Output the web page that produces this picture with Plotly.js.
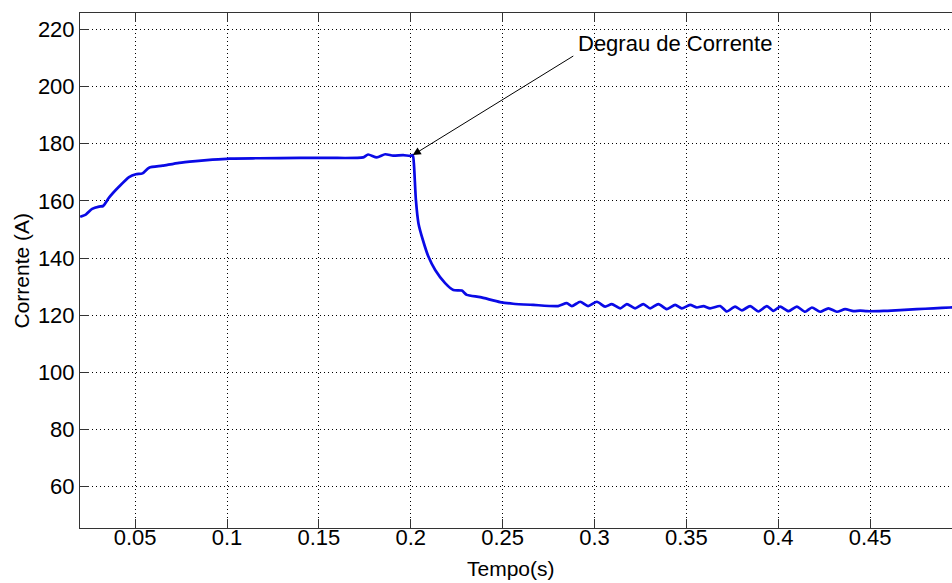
<!DOCTYPE html>
<html>
<head>
<meta charset="utf-8">
<script src="https://cdn.plot.ly/plotly-3.0.1.min.js"></script>
<style>
html,body{margin:0;padding:0;background:#fff;overflow:hidden;}
#chart{width:970px;height:583px;}
</style>
</head>
<body>
<div id="chart"></div>
<script>
// Time (s)
var tempo = [0.0201,0.0233,0.0266,0.0304,0.0326,0.0359,0.0413,0.0467,0.0504,0.0540,0.0576,0.0649,0.0739,0.0830,0.0921,0.1012,0.1175,0.1398,0.1561,0.1741,0.1768,0.1815,0.1861,0.1904,0.1959,0.1997,0.2011,0.2017,0.2028,0.2042,0.2066,0.2096,0.2133,0.2187,0.2232,0.2278,0.2305,0.2378,0.2486,0.2557,0.2666,0.2802,0.2849,0.2877,0.2922,0.2965,0.3013,0.3058,0.3094,0.3140,0.3176,0.3221,0.3266,0.3303,0.3348,0.3394,0.3439,0.3475,0.3520,0.3557,0.3593,0.3629,0.3684,0.3720,0.3765,0.3802,0.3847,0.3892,0.3938,0.3974,0.4010,0.4056,0.4101,0.4146,0.4183,0.4228,0.4273,0.4319,0.4364,0.4409,0.4446,0.4482,0.4573,0.4663,0.4754,0.4845,0.4935,0.5000];
// Current (A)
var corrente = [154.4,155.3,157.2,158.0,158.2,161.2,165.0,168.3,169.3,169.6,171.6,172.3,173.3,173.9,174.4,174.8,174.9,175.0,175.0,175.2,176.2,175.2,176.3,175.8,176.0,175.7,176.0,173.1,160.3,152.1,146.3,140.5,135.8,131.2,128.8,128.6,127.1,126.3,124.6,124.0,123.6,123.2,124.2,123.2,124.7,123.2,124.7,123.0,123.9,122.4,123.9,122.4,123.9,122.4,123.9,122.1,123.6,122.4,123.6,122.7,123.2,122.4,123.2,121.3,123.0,121.7,123.2,121.3,123.2,121.5,123.0,121.4,123.0,121.2,122.7,121.2,122.4,121.2,122.1,121.4,121.6,121.4,121.5,121.8,122.1,122.4,122.7,122.8];
var xTicks = [0.05,0.1,0.15,0.2,0.25,0.3,0.35,0.4,0.45];
var yTicks = [60,80,100,120,140,160,180,200,220];
var annText = 'Degrau de Corrente';
var xTitle = 'Tempo(s)';
var yTitle = 'Corrente (A)';

var font = 'Arial, "Liberation Sans", sans-serif';

var trace = {
  x: tempo, y: corrente, type: 'scatter', mode: 'lines',
  line: {color: '#0a0ae6', width: 2.7, shape: 'spline', smoothing: 0.6},
  hoverinfo: 'skip'
};

var axisCommon = {
  showline: true, linecolor: '#333', linewidth: 1,
  ticks: 'inside', ticklen: 9, tickwidth: 1, tickcolor: '#333',
  showgrid: true, gridcolor: '#000', gridwidth: 1, griddash: '1px,3px',
  zeroline: false, mirror: 'ticks',
  tickfont: {family: font, size: 22, color: '#000'}
};

var layout = {
  width: 970, height: 583,
  margin: {l: 80, r: 8, t: 13, b: 55},
  paper_bgcolor: '#fff', plot_bgcolor: '#fff',
  showlegend: false,
  xaxis: Object.assign({}, axisCommon, {
    range: [0.02, 0.5], tickvals: xTicks, ticktext: xTicks.map(String),
    ticklabelstandoff: -10
  }),
  yaxis: Object.assign({}, axisCommon, {
    range: [45.57, 225.7], tickvals: yTicks, ticktext: yTicks.map(String),
    ticklabelstandoff: 0
  }),
  annotations: [
    {x: 0.2011, y: 176, xref: 'x', yref: 'y', text: '', showarrow: true,
     ax: 162, ay: -100, arrowhead: 2, arrowsize: 1.6, arrowwidth: 1,
     arrowcolor: '#000', standoff: 0, startstandoff: 0},
    {x: 0.2900, y: 214.86, xref: 'x', yref: 'y', text: annText, showarrow: false,
     xanchor: 'left', yanchor: 'middle', font: {family: font, size: 22, color: '#000'}},
    {x: (511 - 80) / 882, y: -(568 - 528) / 515, xref: 'paper', yref: 'paper', text: xTitle,
     showarrow: false, xanchor: 'center', yanchor: 'middle',
     font: {family: font, size: 21, color: '#000'}},
    {x: -(80 - 21) / 882, y: 0.5, xref: 'paper', yref: 'paper', text: yTitle,
     showarrow: false, xanchor: 'center', yanchor: 'middle', textangle: -90,
     font: {family: font, size: 21, color: '#000'}}
  ]
};

Plotly.newPlot('chart', [trace], layout, {staticPlot: true, displayModeBar: false});
</script>
</body>
</html>
